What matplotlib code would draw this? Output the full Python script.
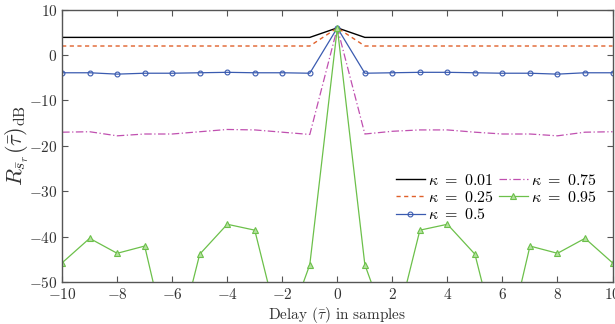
import numpy as np
import matplotlib
matplotlib.use('Agg')
import matplotlib.pyplot as plt

plt.rcParams['font.family'] = 'serif'
plt.rcParams['font.serif'] = ['cmr10']
plt.rcParams['mathtext.fontset'] = 'cm'
plt.rcParams['axes.formatter.use_mathtext'] = True

# Delay axis and curves (dB)
delay = np.arange(-10, 11)

r_001 = [3.9] * 10 + [6.0] + [3.9] * 10
r_025 = [2.0] * 10 + [6.0] + [2.0] * 10
r_050 = [-3.9, -3.9, -4.2, -4.0, -4.0, -3.9, -3.8, -3.9, -3.9, -4.0, 6.0,
         -4.0, -3.9, -3.8, -3.8, -3.9, -4.0, -4.0, -4.2, -3.9, -3.9]
r_075 = [-17.0, -16.9, -17.8, -17.4, -17.4, -16.9, -16.4, -16.5, -17.0, -17.5, 6.0,
         -17.4, -16.8, -16.5, -16.5, -17.0, -17.4, -17.4, -17.8, -17.0, -16.9]
r_095 = [-45.8, -40.4, -43.7, -42.1, -68.0, -43.9, -37.3, -38.6, -63.0, -46.2, 6.0,
         -46.2, -63.0, -38.6, -37.3, -43.9, -68.0, -42.1, -43.7, -40.4, -45.8]

labels = [r'$\kappa\ =\ 0.01$', r'$\kappa\ =\ 0.25$', r'$\kappa\ =\ 0.5$',
          r'$\kappa\ =\ 0.75$', r'$\kappa\ =\ 0.95$']

fig = plt.figure(figsize=(6.15, 3.24), dpi=100)
ax = fig.add_axes([0.101, 0.13, 0.895, 0.84])

ax.plot(delay, r_001, color='black', lw=1.0, label=labels[0])
ax.plot(delay, r_025, color='#E0602A', lw=1.0, ls=(0, (3, 2.5)), label=labels[1])
ax.plot(delay, r_050, color='#3A5BB0', lw=0.9, marker='o', ms=3.5,
        mfc='none', mew=0.8, label=labels[2])
ax.plot(delay, r_075, color='#C050B0', lw=0.9, ls=(0, (6, 2, 1, 2)), label=labels[3])
ax.plot(delay, r_095, color='#6CC04A', lw=0.9, marker='^', ms=4.5,
        mfc='#B5E0A0', mew=0.8, label=labels[4])

ax.set_xlim(-10, 10)
ax.set_ylim(-50, 10)
ax.set_xticks(range(-10, 11, 2))
ax.set_yticks(range(-50, 11, 10))

ax.tick_params(direction='in', top=True, right=True, length=4,
               labelsize=11, colors='#555555', labelcolor='#333333')
for sp in ax.spines.values():
    sp.set_color('#555555')
    sp.set_linewidth(1.0)

ax.set_xlabel(r'Delay ($\bar{\tau}$) in samples', fontsize=11, color='#333333', labelpad=2)
ax.set_ylabel(r'$R_{\bar{s}_r}(\bar{\tau})_{\mathrm{dB}}$', fontsize=16, color='#333333', labelpad=-2)

ax.legend(ncol=2, frameon=False,
          loc='upper left', bbox_to_anchor=(0.595, 0.425), fontsize=11.5,
          handlelength=1.8, handletextpad=0.2, columnspacing=0.3,
          labelspacing=0.15, borderaxespad=0)

fig.savefig('out.png', dpi=100)
